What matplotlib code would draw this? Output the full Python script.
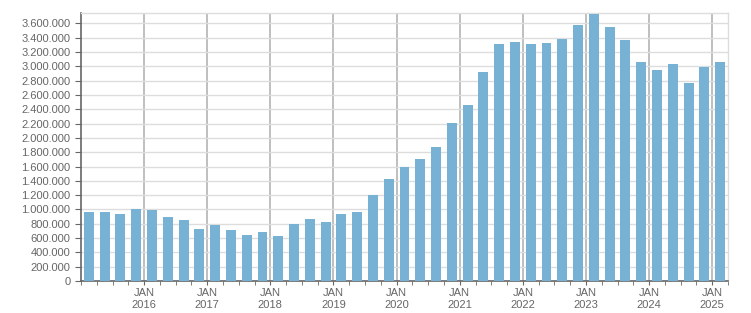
import matplotlib.pyplot as plt
from matplotlib.ticker import FuncFormatter, MultipleLocator

# quarterly values, Q1 2015 .. Q1 2025
values = [961000, 961000, 933000, 1003000, 989000, 891000, 849000, 723000,
          779000, 709000, 639000, 681000, 625000, 793000, 863000, 821000,
          933000, 961000, 1199000, 1423000, 1590000, 1702000, 1870000, 2206000,
          2457000, 2919000, 3311000, 3339000, 3311000, 3325000, 3381000, 3576000,
          3730000, 3548000, 3367000, 3059000, 2947000, 3031000, 2765000, 2989000,
          3059000]
years = list(range(2016, 2026))

plt.rcParams['font.family'] = ['Liberation Sans', 'DejaVu Sans']
txt = '#666666'

fig = plt.figure(figsize=(7.51, 3.13), dpi=100)
ax = fig.add_axes([81 / 751, 32 / 313, 647 / 751, 268 / 313])

x = [i + 0.5 for i in range(len(values))]
ax.bar(x, values, width=0.63, color='#77b1d4', zorder=3)

ax.set_xlim(0, len(values))
ax.set_ylim(0, 3745000)

ax.yaxis.set_major_locator(MultipleLocator(200000))
ax.yaxis.set_major_formatter(FuncFormatter(lambda v, p: f'{int(v):,}'.replace(',', '.')))
ax.grid(axis='y', color='#dddddd', linewidth=1, zorder=0)

ticks = [(y - 2015) * 4 for y in years]
ax.set_xticks(ticks)
ax.set_xticklabels([f'JAN\n{y}' for y in years])
ax.set_xticks(range(0, len(values) + 1), minor=True)
ax.grid(axis='x', which='major', color='#b4b4b4', linewidth=1.2, zorder=1)

ax.tick_params(axis='y', labelsize=8, colors=txt, length=4, color='#666666')
ax.tick_params(axis='x', which='both', labelsize=8, colors=txt, length=3, color='#666666')
ax.tick_params(axis='x', which='major', pad=2)

for s in ['left', 'bottom']:
    ax.spines[s].set_color('#666666')
    ax.spines[s].set_linewidth(1.2)
for s in ['top', 'right']:
    ax.spines[s].set_color('#dddddd')
    ax.spines[s].set_linewidth(1)

fig.savefig('out.png', dpi=100)
